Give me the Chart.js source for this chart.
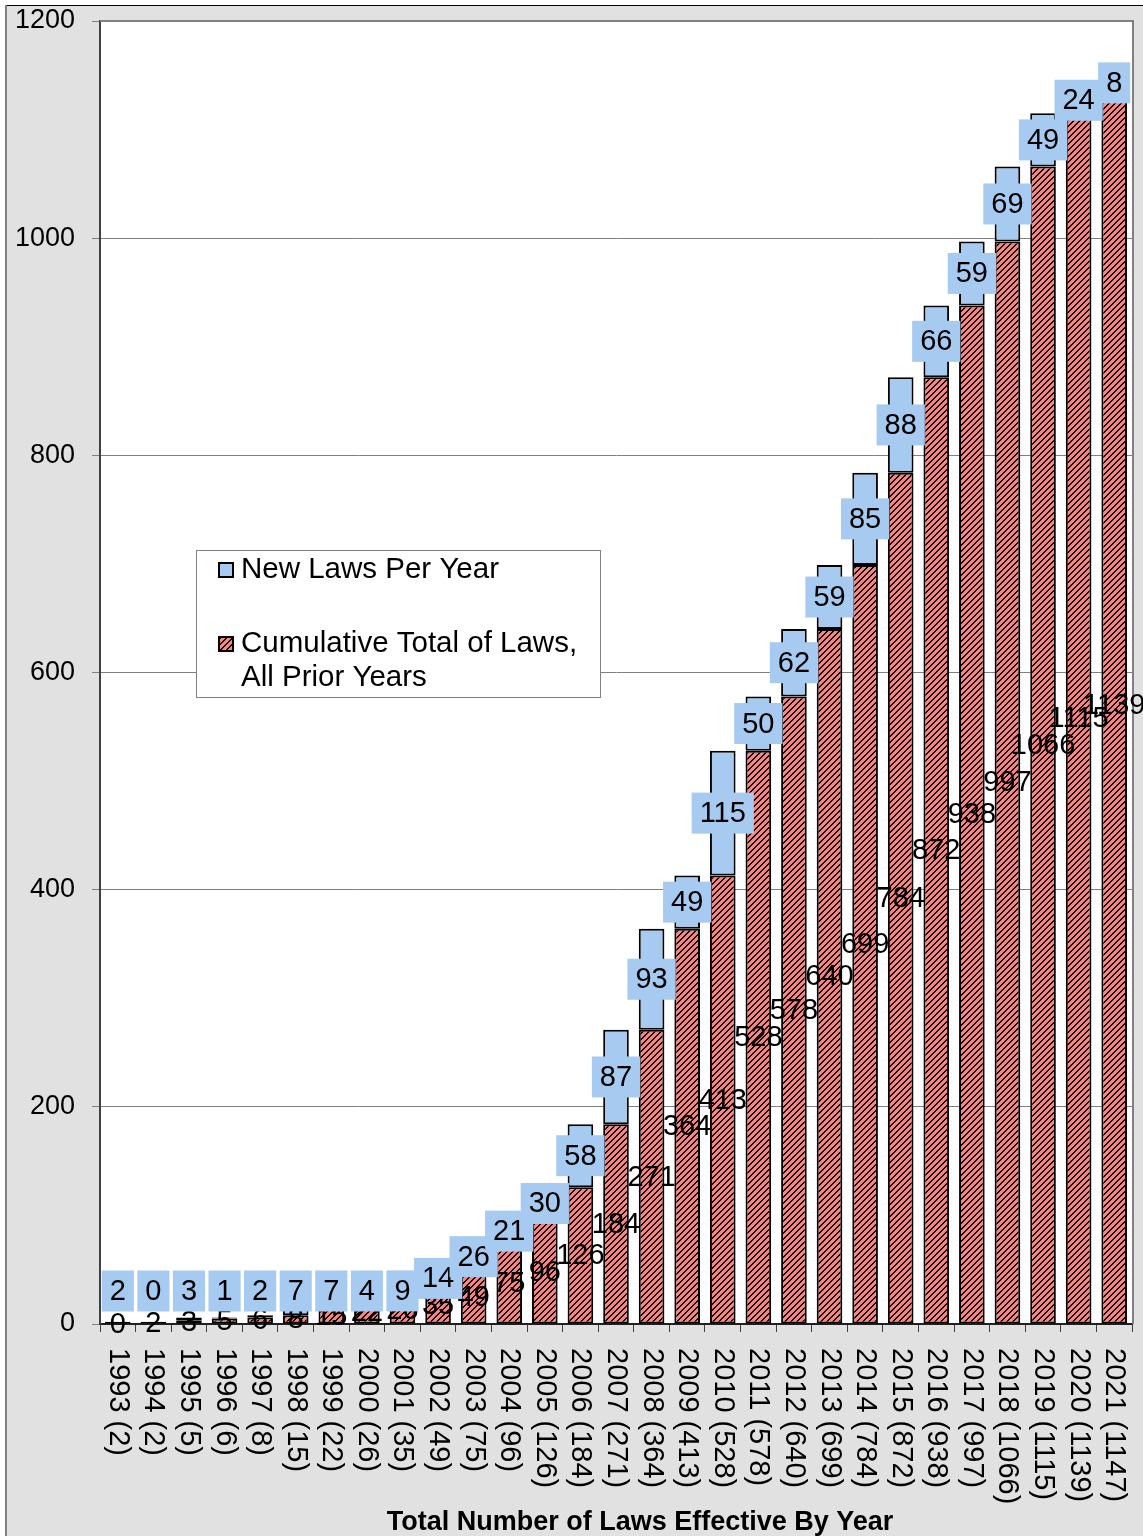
<!DOCTYPE html>
<html>
<head>
<meta charset="utf-8">
<title>Total Number of Laws Effective By Year</title>
<script src="https://cdn.jsdelivr.net/npm/chart.js@4.4.1/dist/chart.umd.min.js"></script>
<style>
    html, body { margin: 0; padding: 0; background: #fff; }
    #laws-chart { display: block; }
</style>
</head>
<body>
<canvas id="laws-chart" width="1143" height="1536"></canvas>
<script>
// --- data -------------------------------------------------------------------
const years = [1993, 1994, 1995, 1996, 1997, 1998, 1999, 2000, 2001, 2002,
    2003, 2004, 2005, 2006, 2007, 2008, 2009, 2010, 2011, 2012,
    2013, 2014, 2015, 2016, 2017, 2018, 2019, 2020, 2021];
const yearTotals = [2, 2, 5, 6, 8, 15, 22, 26, 35, 49,
    75, 96, 126, 184, 271, 364, 413, 528, 578, 640,
    699, 784, 872, 938, 997, 1066, 1115, 1139, 1147];
const priorTotals = [0, 2, 3, 5, 6, 8, 15, 22, 26, 35,
    49, 75, 96, 126, 184, 271, 364, 413, 528, 578,
    640, 699, 784, 872, 938, 997, 1066, 1115, 1139];
const newPerYear = [2, 0, 3, 1, 2, 7, 7, 4, 9, 14,
    26, 21, 30, 58, 87, 93, 49, 115, 50, 62,
    59, 85, 88, 66, 59, 69, 49, 24, 8];
const yMax = 1200;
const yStep = 200;

const categories = years.map((y, i) => `${y} (${yearTotals[i]})`);
const NEW_LABEL = 'New Laws Per Year';
const CUM_LABEL = 'Cumulative Total of Laws, All Prior Years';
const X_TITLE = 'Total Number of Laws Effective By Year';

const FONT = '"Liberation Sans", Arial, sans-serif';
const BLUE = '#a6caf0';
const SALMON = '#ff8080';
const GREY_BG = '#e1e1e1';

// salmon with thin black "/" stripes, drawn pixel by pixel so it stays crisp
function _hatch() {
    const s = 6;
    const c = document.createElement('canvas');
    c.width = s; c.height = s;
    const g = c.getContext('2d');
    g.fillStyle = SALMON;
    g.fillRect(0, 0, s, s);
    g.fillStyle = '#000';
    for (let k = 0; k < s; k++) {
        const y = s - 1 - k;
        g.fillRect(k, y, 1, 1);
        g.fillRect((k + 1) % s, y, 1, 1);
    }
    return g.createPattern(c, 'repeat');
}
const hatch = _hatch();

// grey page, white plot area, frame on top/right
const backdrop = {
    id: 'backdrop',
    beforeDraw(chart) {
        const { ctx, width, height, chartArea: a } = chart;
        ctx.save();
        ctx.fillStyle = '#fff';
        ctx.fillRect(0, 0, width, height);
        ctx.fillStyle = GREY_BG;
        ctx.fillRect(5, 5, width - 5, height - 5);
        ctx.fillStyle = '#000';
        ctx.fillRect(5, 5, width - 5, 1);
        ctx.fillStyle = '#808080';
        ctx.fillRect(5, 5, 2, height - 5);
        ctx.fillStyle = '#fff';
        ctx.fillRect(a.left, a.top, a.right - a.left, a.bottom - a.top);
        ctx.restore();
    },
    beforeDatasetsDraw(chart) {
        const { ctx, chartArea: a } = chart;
        ctx.save();
        ctx.strokeStyle = '#808080';
        ctx.lineWidth = 2;
        ctx.beginPath();
        ctx.moveTo(a.left, a.top);
        ctx.lineTo(a.right + 1, a.top);
        ctx.lineTo(a.right + 1, a.bottom);
        ctx.stroke();
        ctx.restore();
    },
};

// value labels: plain for cumulative, boxed for new laws
const barLabels = {
    id: 'barLabels',
    afterDatasetsDraw(chart) {
        const { ctx } = chart;
        const axisY = chart.scales.y.getPixelForValue(0);
        ctx.save();
        ctx.font = `29px ${FONT}`;
        ctx.textAlign = 'center';
        ctx.textBaseline = 'middle';
        ctx.fillStyle = '#000';
        chart.getDatasetMeta(0).data.forEach((bar, i) => {
            ctx.fillText(String(priorTotals[i]), bar.x, (bar.y + bar.base) / 2 + 1);
        });
        chart.getDatasetMeta(1).data.forEach((bar, i) => {
            const text = String(newPerYear[i]);
            const cy = Math.min((bar.y + bar.base) / 2, axisY - 33);
            const w = ctx.measureText(text).width + 16;
            const h = 41;
            ctx.fillStyle = BLUE;
            ctx.fillRect(bar.x - w / 2, cy - h / 2, w, h);
            ctx.fillStyle = '#000';
            ctx.fillText(text, bar.x, cy + 1);
        });
        ctx.restore();
    },
};

// rotated category labels + axis title
const xLabels = {
    id: 'xLabels',
    afterDraw(chart) {
        const { ctx, chartArea: a } = chart;
        const x = chart.scales.x;
        ctx.save();
        ctx.fillStyle = '#000';
        ctx.font = `29px ${FONT}`;
        ctx.textAlign = 'left';
        ctx.textBaseline = 'middle';
        categories.forEach((label, i) => {
            ctx.save();
            ctx.translate(x.getPixelForValue(i), a.bottom + 24);
            ctx.rotate(Math.PI / 2);
            ctx.fillText(label, 0, 0);
            ctx.restore();
        });
        ctx.font = `bold 27px ${FONT}`;
        ctx.textAlign = 'center';
        ctx.fillText(X_TITLE, (a.left + a.right) / 2 + 24, a.bottom + 199);
        ctx.restore();
    },
};

// boxed legend floating inside the plot
function _wrap(ctx, text, maxW) {
    const words = text.split(' ');
    const lines = [];
    let line = '';
    for (const w of words) {
        const test = line ? line + ' ' + w : w;
        if (ctx.measureText(test).width > maxW && line) {
            lines.push(line);
            line = w;
        } else {
            line = test;
        }
    }
    lines.push(line);
    return lines;
}

const boxLegend = {
    id: 'boxLegend',
    afterDraw(chart) {
        const { ctx, chartArea: a } = chart;
        const bx = a.left + 96, by = a.top + 529, bw = 404, bh = 147;
        ctx.save();
        ctx.fillStyle = '#fff';
        ctx.fillRect(bx, by, bw, bh);
        ctx.strokeStyle = '#808080';
        ctx.lineWidth = 1;
        ctx.strokeRect(bx + 0.5, by + 0.5, bw, bh);
        ctx.font = `29.5px ${FONT}`;
        ctx.textAlign = 'left';
        ctx.textBaseline = 'middle';
        const items = [chart.data.datasets[1], chart.data.datasets[0]];
        let rowY = by + 20;
        items.forEach(ds => {
            ctx.fillStyle = ds.backgroundColor;
            ctx.fillRect(bx + 23, rowY - 7, 14, 14);
            ctx.strokeStyle = '#000';
            ctx.lineWidth = 2;
            ctx.strokeRect(bx + 23, rowY - 7, 14, 14);
            ctx.fillStyle = '#000';
            const lines = _wrap(ctx, ds.label, 360);
            lines.forEach((ln, k) => ctx.fillText(ln, bx + 45, rowY + k * 34));
            rowY += 74;
        });
        ctx.restore();
    },
};

new Chart(document.getElementById('laws-chart'), {
    type: 'bar',
    data: {
        labels: categories,
        datasets: [
            {
                label: CUM_LABEL, data: priorTotals,
                backgroundColor: hatch, borderColor: '#000', borderWidth: 2,
                borderSkipped: false, barPercentage: 0.72, categoryPercentage: 1,
            },
            {
                label: NEW_LABEL, data: newPerYear,
                backgroundColor: BLUE, borderColor: '#000', borderWidth: 2,
                borderSkipped: false, barPercentage: 0.72, categoryPercentage: 1,
            },
        ],
    },
    options: {
        responsive: false, animation: false, devicePixelRatio: 1,
        layout: { padding: { left: 0, top: 21, right: 11, bottom: 0 } },
        plugins: { legend: { display: false }, tooltip: { enabled: false } },
        scales: {
            x: {
                stacked: true,
                afterFit: s => { s.height = 212; s.paddingLeft = 0; s.paddingRight = 0; },
                ticks: { display: false },
                grid: { drawOnChartArea: false, drawTicks: true, tickLength: 8, color: '#404040', lineWidth: 1 },
                border: { color: '#202020', width: 2 },
            },
            y: {
                stacked: true, min: 0, max: yMax,
                afterFit: s => { s.width = 100; s.paddingTop = 0; s.paddingBottom = 0; },
                ticks: {
                    stepSize: yStep, padding: 17, color: '#000',
                    font: { family: FONT, size: 27 },
                    callback: v => String(v),
                },
                grid: { color: '#808080', lineWidth: 1, tickLength: 8 },
                border: { color: '#404040', width: 2 },
            },
        },
    },
    plugins: [backdrop, barLabels, xLabels, boxLegend],
});
</script>
</body>
</html>
